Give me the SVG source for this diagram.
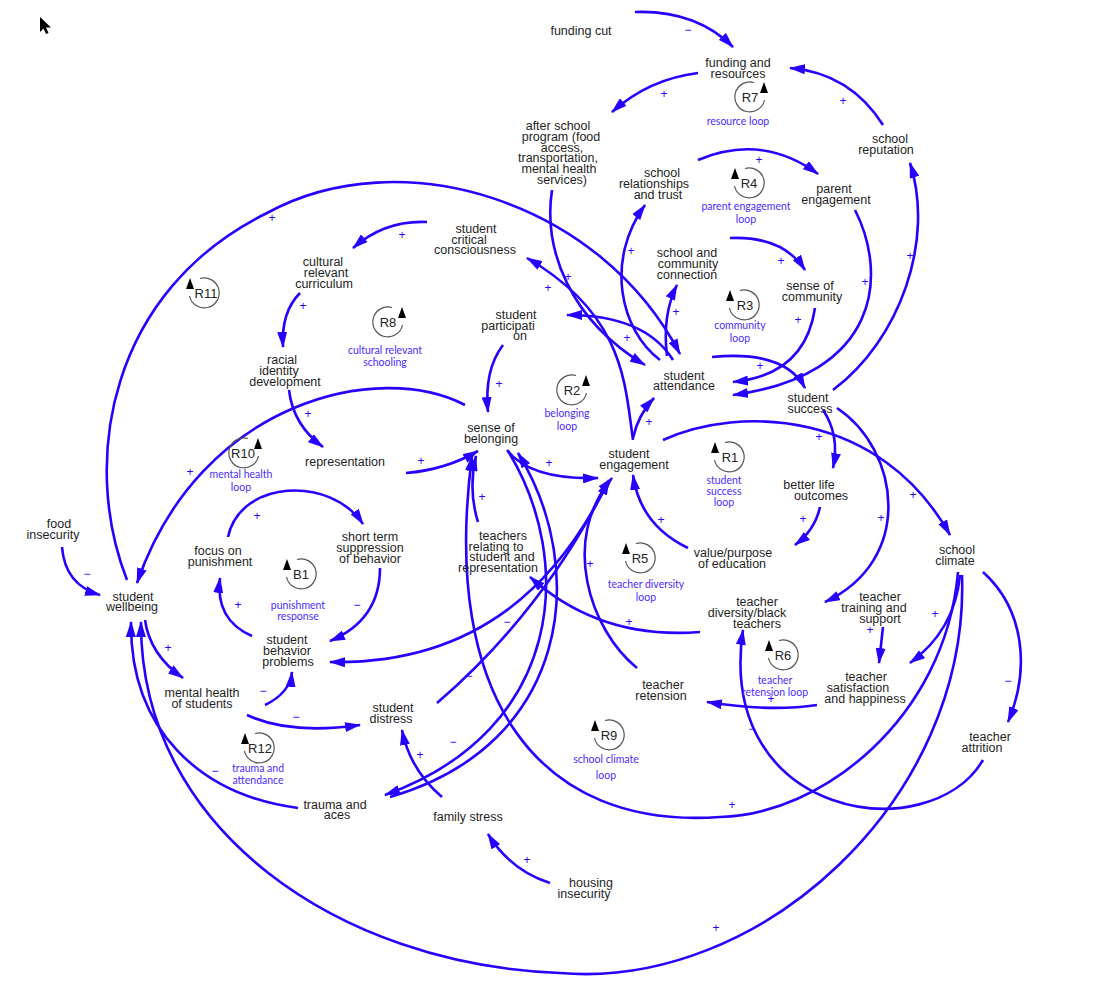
<svg xmlns="http://www.w3.org/2000/svg" width="1098" height="986" viewBox="0 0 1098 986">
<style>
.n{font-family:"Liberation Sans",Arial,sans-serif;font-size:12.5px;fill:#1e1e1e;text-anchor:middle}
.l{font-family:Lato,"Open Sans",sans-serif;font-size:10.5px;fill:#4a2cff;text-anchor:middle}
.p{font-family:"Liberation Sans",Arial,sans-serif;font-size:12px;fill:#2600ff;text-anchor:middle}
.c{fill:none;stroke:#2600ff;stroke-width:2.6;marker-end:url(#ah)}
.lc{fill:none;stroke:#555;stroke-width:1.2}
.lt{font-family:"Liberation Sans",Arial,sans-serif;font-size:13px;fill:#222;text-anchor:middle}
</style>
<defs>
<marker id="ah" viewBox="0 0 16 10" refX="15" refY="5" markerWidth="16" markerHeight="10" markerUnits="userSpaceOnUse" orient="auto"><path d="M0,0 L16,5 L0,10 z" fill="#2600ff"/></marker>
<g id="loopL"><path class="lc" d="M-14.5,3 A15 15 0 1 0 -4,-14.5"/><path d="M-14,-15 L-18,-4 L-10,-4 z" fill="#000"/></g>
<g id="loopR"><path class="lc" d="M14.5,3 A15 15 0 1 1 4,-14.5"/><path d="M14,-15 L10,-4 L18,-4 z" fill="#000"/></g>
</defs>
<rect width="1098" height="986" fill="#fff"/>
<path d="M40,17 L40,32 L43.5,28.5 L46,34 L48.5,33 L46,27.5 L51,27.5 z" fill="#000"/>

<g id="connectors">
<path class="c" d="M635,12 Q696,10 733,47"/>
<path class="c" d="M698,73 Q649,79 612,112"/>
<path class="c" d="M883,125 Q850,73 790,68"/>
<path class="c" d="M698,160 Q762,133 818,174"/>
<path class="c" d="M855,210 C888,275 880,375 733,395"/>
<path class="c" d="M833,390 C900,340 935,240 910,163"/>
<path class="c" d="M730,238 Q783,236 805,270"/>
<path class="c" d="M815,308 Q805,375 733,382"/>
<path class="c" d="M712,357 Q785,350 805,388"/>
<path class="c" d="M667,356 Q662,315 677,285"/>
<path class="c" d="M660,360 C620,330 605,260 645,205"/>
<path class="c" d="M552,190 C543,250 570,320 645,365"/>
<path class="c" d="M633,440 C625,385 625,315 527,258"/>
<path class="c" d="M673,360 Q645,315 567,315"/>
<path class="c" d="M127,580 C80,460 110,290 267,213 C400,140 600,200 680,354"/>
<path class="c" d="M427,222 Q385,220 353,248"/>
<path class="c" d="M300,293 Q281,312 283,347"/>
<path class="c" d="M289,390 Q293,425 323,447"/>
<path class="c" d="M406,473 Q445,470 478,451"/>
<path class="c" d="M503,345 Q484,370 488,412"/>
<path class="c" d="M507,450 Q530,480 598,478"/>
<path class="c" d="M508,451 C575,560 565,730 385,795"/>
<path class="c" d="M390,797 C570,745 590,570 518,453"/>
<path class="c" d="M437,703 Q545,610 609,480"/>
<path class="c" d="M478,522 Q468,490 476,456"/>
<path class="c" d="M633,438 Q638,415 654,398"/>
<path class="c" d="M688,548 Q640,525 633,475"/>
<path class="c" d="M637,668 C590,630 560,540 612,478"/>
<path class="c" d="M608,482 C560,580 480,665 330,662"/>
<path class="c" d="M700,632 Q600,640 530,577"/>
<path class="c" d="M823,410 Q840,435 833,468"/>
<path class="c" d="M820,507 Q815,530 795,545"/>
<path class="c" d="M837,408 C900,450 915,560 825,602"/>
<path class="c" d="M663,440 C740,405 880,410 950,535"/>
<path class="c" d="M960,575 Q955,630 910,663"/>
<path class="c" d="M883,627 Q881,645 879,663"/>
<path class="c" d="M983,572 C1025,610 1030,670 1008,722"/>
<path class="c" d="M983,760 C930,850 715,820 743,630"/>
<path class="c" d="M817,705 Q770,712 707,702"/>
<path class="c" d="M958,572 C945,720 820,815 720,817 C540,830 440,700 472,456"/>
<path class="c" d="M962,575 C970,800 760,990 560,973 C340,965 140,830 141,622"/>
<path class="c" d="M298,808 C200,795 130,730 131,622"/>
<path class="c" d="M145,620 Q150,655 183,678"/>
<path class="c" d="M62,547 Q65,585 100,595"/>
<path class="c" d="M465,405 C380,360 200,400 137,583"/>
<path class="c" d="M228,537 C240,480 330,475 363,524"/>
<path class="c" d="M380,568 Q380,620 330,641"/>
<path class="c" d="M252,636 Q215,620 220,578"/>
<path class="c" d="M265,705 Q290,693 292,672"/>
<path class="c" d="M247,715 Q290,735 360,725"/>
<path class="c" d="M442,797 Q410,770 402,730"/>
<path class="c" d="M550,883 Q510,870 488,834"/>

<g id="polarities">
<text class="p" x="688" y="34">−</text>
<text class="p" x="664" y="98">+</text>
<text class="p" x="843" y="105">+</text>
<text class="p" x="759" y="164">+</text>
<text class="p" x="272" y="222">+</text>
<text class="p" x="402" y="239">+</text>
<text class="p" x="631" y="255">+</text>
<text class="p" x="910" y="260">+</text>
<text class="p" x="781" y="265">+</text>
<text class="p" x="568" y="281">+</text>
<text class="p" x="548" y="292">+</text>
<text class="p" x="865" y="286">+</text>
<text class="p" x="303" y="310">+</text>
<text class="p" x="676" y="316">+</text>
<text class="p" x="798" y="324">+</text>
<text class="p" x="627" y="342">+</text>
<text class="p" x="760" y="370">+</text>
<text class="p" x="499" y="388">+</text>
<text class="p" x="308" y="418">+</text>
<text class="p" x="649" y="426">+</text>
<text class="p" x="819" y="441">+</text>
<text class="p" x="421" y="465">+</text>
<text class="p" x="549" y="467">+</text>
<text class="p" x="190" y="476">+</text>
<text class="p" x="913" y="499">+</text>
<text class="p" x="482" y="501">+</text>
<text class="p" x="257" y="520">+</text>
<text class="p" x="881" y="522">+</text>
<text class="p" x="661" y="524">+</text>
<text class="p" x="803" y="523">+</text>
<text class="p" x="87" y="578">−</text>
<text class="p" x="238" y="609">+</text>
<text class="p" x="357" y="609">−</text>
<text class="p" x="590" y="568">+</text>
<text class="p" x="935" y="618">+</text>
<text class="p" x="629" y="626">+</text>
<text class="p" x="507" y="626">−</text>
<text class="p" x="870" y="634">+</text>
<text class="p" x="168" y="652">+</text>
<text class="p" x="1008" y="685">−</text>
<text class="p" x="469" y="680">−</text>
<text class="p" x="263" y="695">−</text>
<text class="p" x="771" y="703">+</text>
<text class="p" x="296" y="721">−</text>
<text class="p" x="752" y="733">−</text>
<text class="p" x="453" y="746">−</text>
<text class="p" x="420" y="759">+</text>
<text class="p" x="215" y="775">−</text>
<text class="p" x="732" y="809">+</text>
<text class="p" x="527" y="864">+</text>
<text class="p" x="716" y="932">+</text>
</g>
</g>

<g id="n-funding-cut"><text class="n" x="581" y="35">funding cut</text></g>
<g id="n-funding"><text class="n"><tspan x="738" y="67">funding and</tspan><tspan x="738" y="78">resources</tspan></text></g>
<g id="n-after-school"><text class="n"><tspan x="558" y="130">after school</tspan><tspan x="561" y="141">program (food</tspan><tspan x="562" y="151.5">access,</tspan><tspan x="558" y="162">transportation,</tspan><tspan x="559" y="173">mental health</tspan><tspan x="562" y="184">services)</tspan></text></g>
<g id="n-relationships"><text class="n"><tspan x="662" y="177">school</tspan><tspan x="654" y="188">relationships</tspan><tspan x="658" y="198.5">and trust</tspan></text></g>
<g id="n-parent"><text class="n"><tspan x="834" y="193">parent</tspan><tspan x="836" y="204">engagement</tspan></text></g>
<g id="n-reputation"><text class="n"><tspan x="890" y="143">school</tspan><tspan x="886" y="154">reputation</tspan></text></g>
<g id="n-critical"><text class="n"><tspan x="476" y="232.5">student</tspan><tspan x="469" y="243.5">critical</tspan><tspan x="475" y="254">consciousness</tspan></text></g>
<g id="n-cultural"><text class="n"><tspan x="323" y="265.5">cultural</tspan><tspan x="326" y="276.5">relevant</tspan><tspan x="324" y="287.5">curriculum</tspan></text></g>
<g id="n-community-conn"><text class="n"><tspan x="687" y="257">school and</tspan><tspan x="688" y="267.5">community</tspan><tspan x="687" y="278.5">connection</tspan></text></g>
<g id="n-sense-community"><text class="n"><tspan x="810" y="289.5">sense of</tspan><tspan x="812" y="300.5">community</tspan></text></g>
<g id="n-participation"><text class="n"><tspan x="516" y="318.5">student</tspan><tspan x="508" y="329.5">participati</tspan><tspan x="520" y="340">on</tspan></text></g>
<g id="n-attendance"><text class="n"><tspan x="684" y="379.5">student</tspan><tspan x="684" y="390">attendance</tspan></text></g>
<g id="n-success"><text class="n"><tspan x="808" y="401.5">student</tspan><tspan x="810" y="413">success</tspan></text></g>
<g id="n-racial"><text class="n"><tspan x="282" y="363.5">racial</tspan><tspan x="279" y="375">identity</tspan><tspan x="285" y="385.5">development</tspan></text></g>
<g id="n-belonging"><text class="n"><tspan x="491" y="431.5">sense of</tspan><tspan x="491" y="442.5">belonging</tspan></text></g>
<g id="n-representation"><text class="n" x="345" y="466">representation</text></g>
<g id="n-engagement"><text class="n"><tspan x="629" y="457.5">student</tspan><tspan x="634" y="468.5">engagement</tspan></text></g>
<g id="n-better-life"><text class="n"><tspan x="809" y="488.5">better life</tspan><tspan x="821" y="499.5">outcomes</tspan></text></g>
<g id="n-food"><text class="n"><tspan x="59" y="527.5">food</tspan><tspan x="53" y="538.5">insecurity</tspan></text></g>
<g id="n-focus"><text class="n"><tspan x="218" y="555">focus on</tspan><tspan x="220" y="566">punishment</tspan></text></g>
<g id="n-suppression"><text class="n"><tspan x="370" y="540.5">short term</tspan><tspan x="370" y="551.5">suppression</tspan><tspan x="370" y="562.5">of behavior</tspan></text></g>
<g id="n-teachers-relating"><text class="n"><tspan x="503" y="539.5">teachers</tspan><tspan x="496" y="550.5">relating to</tspan><tspan x="502" y="561">student and</tspan><tspan x="498" y="571.5">representation</tspan></text></g>
<g id="n-value"><text class="n"><tspan x="733" y="557">value/purpose</tspan><tspan x="732" y="567.5">of education</tspan></text></g>
<g id="n-climate"><text class="n"><tspan x="957" y="553.5">school</tspan><tspan x="955" y="564.5">climate</tspan></text></g>
<g id="n-wellbeing"><text class="n"><tspan x="133" y="600.5">student</tspan><tspan x="132" y="611">wellbeing</tspan></text></g>
<g id="n-diversity"><text class="n"><tspan x="757" y="606">teacher</tspan><tspan x="747" y="617">diversity/black</tspan><tspan x="757" y="627.5">teachers</tspan></text></g>
<g id="n-training"><text class="n"><tspan x="880" y="601">teacher</tspan><tspan x="874" y="611.5">training and</tspan><tspan x="880" y="622.5">support</tspan></text></g>
<g id="n-behavior"><text class="n"><tspan x="287" y="643.5">student</tspan><tspan x="287" y="654.5">behavior</tspan><tspan x="288" y="665.5">problems</tspan></text></g>
<g id="n-satisfaction"><text class="n"><tspan x="866" y="681">teacher</tspan><tspan x="858" y="692">satisfaction</tspan><tspan x="865" y="703">and happiness</tspan></text></g>
<g id="n-mental"><text class="n"><tspan x="202" y="697">mental health</tspan><tspan x="202" y="707.5">of students</tspan></text></g>
<g id="n-retension"><text class="n"><tspan x="663" y="688.5">teacher</tspan><tspan x="661" y="699.5">retension</tspan></text></g>
<g id="n-distress"><text class="n"><tspan x="393" y="712">student</tspan><tspan x="391" y="722.5">distress</tspan></text></g>
<g id="n-attrition"><text class="n"><tspan x="990" y="741">teacher</tspan><tspan x="982" y="751.5">attrition</tspan></text></g>
<g id="n-trauma"><text class="n"><tspan x="335" y="808.5">trauma and</tspan><tspan x="337" y="819">aces</tspan></text></g>
<g id="n-family"><text class="n" x="468" y="821">family stress</text></g>
<g id="n-housing"><text class="n"><tspan x="591" y="887">housing</tspan><tspan x="584" y="897.5">insecurity</tspan></text></g>

<g id="loop-R7"><use href="#loopR" x="750" y="97"/><text class="lt" x="750" y="101.5">R7</text><text class="l" x="738" y="125">resource loop</text></g>
<g id="loop-R4"><use href="#loopL" x="749" y="183"/><text class="lt" x="749" y="187.5">R4</text><text class="l"><tspan x="746" y="210">parent engagement</tspan><tspan x="746" y="223">loop</tspan></text></g>
<g id="loop-R3"><use href="#loopL" x="744" y="305"/><text class="lt" x="745" y="309.5">R3</text><text class="l"><tspan x="740" y="329">community</tspan><tspan x="740" y="342">loop</tspan></text></g>
<g id="loop-R8"><use href="#loopR" x="388" y="322"/><text class="lt" x="388" y="326.5">R8</text><text class="l"><tspan x="385" y="354">cultural relevant</tspan><tspan x="385" y="366">schooling</tspan></text></g>
<g id="loop-R11"><use href="#loopL" x="204" y="293"/><text class="lt" x="206" y="297.5">R11</text></g>
<g id="loop-R2"><use href="#loopR" x="572" y="390"/><text class="lt" x="572" y="394.5">R2</text><text class="l"><tspan x="567" y="417">belonging</tspan><tspan x="567" y="430">loop</tspan></text></g>
<g id="loop-R1"><use href="#loopL" x="729" y="457"/><text class="lt" x="730" y="461.5">R1</text><text class="l"><tspan x="724" y="484">student</tspan><tspan x="724" y="495">success</tspan><tspan x="724" y="506">loop</tspan></text></g>
<g id="loop-R10"><use href="#loopR" x="244" y="453"/><text class="lt" x="243" y="457.5">R10</text><text class="l"><tspan x="241" y="478">mental health</tspan><tspan x="241" y="491">loop</tspan></text></g>
<g id="loop-B1"><use href="#loopL" x="301" y="574"/><text class="lt" x="301" y="578.5">B1</text><text class="l"><tspan x="298" y="609">punishment</tspan><tspan x="298" y="620">response</tspan></text></g>
<g id="loop-R5"><use href="#loopL" x="640" y="558"/><text class="lt" x="640" y="562.5">R5</text><text class="l"><tspan x="646" y="588">teacher diversity</tspan><tspan x="646" y="601">loop</tspan></text></g>
<g id="loop-R6"><use href="#loopL" x="783" y="655"/><text class="lt" x="783" y="659.5">R6</text><text class="l"><tspan x="775" y="684">teacher</tspan><tspan x="775" y="696">retension loop</tspan></text></g>
<g id="loop-R12"><use href="#loopL" x="259" y="748"/><text class="lt" x="260" y="752.5">R12</text><text class="l"><tspan x="258" y="772">trauma and</tspan><tspan x="258" y="784">attendance</tspan></text></g>
<g id="loop-R9"><use href="#loopL" x="609" y="735"/><text class="lt" x="609" y="739.5">R9</text><text class="l"><tspan x="606" y="763">school climate</tspan><tspan x="606" y="779">loop</tspan></text></g>
</svg>
